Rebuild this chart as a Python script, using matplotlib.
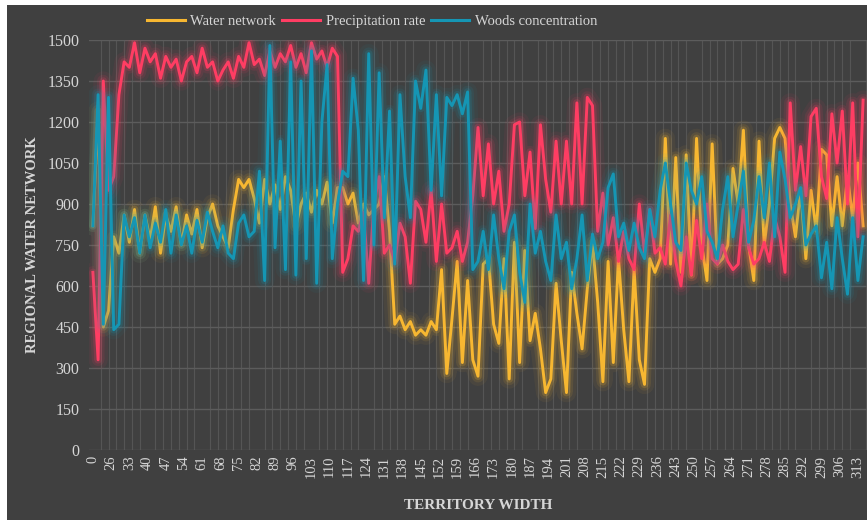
import numpy as np
import matplotlib
matplotlib.use("Agg")
import matplotlib.pyplot as plt
from matplotlib.patches import Rectangle

# ---- data ----
tick_labels = ["0"] + [str(v) for v in range(26, 314, 7)]
positions = list(range(0, 297, 2))

water_network = [
    820, 1240, 450, 510, 780, 720, 860, 760, 880, 720,
    860, 770, 890, 720, 860, 800, 890, 750, 860, 790,
    880, 740, 850, 900, 820, 780, 740, 880, 990, 960,
    990, 920, 830, 990, 900, 970, 880, 1000, 950, 820,
    900, 940, 870, 950, 900, 980, 830, 960, 960, 900,
    940, 830, 900, 860, 880, 900, 1000, 800, 460, 490,
    440, 470, 420, 440, 420, 470, 440, 660, 280, 480,
    690, 320, 620, 330, 270, 680, 700, 460, 390, 700,
    260, 760, 320, 730, 400, 500, 370, 210, 260, 610,
    400, 210, 650, 500, 370, 590, 760, 540, 250, 690,
    320, 700, 440, 250, 660, 330, 240, 700, 650, 700,
    1140, 680, 1070, 650, 1080, 640, 1140, 750, 620, 1120,
    680, 700, 750, 1030, 900, 1170, 750, 620, 1130, 750,
    900, 1140, 1180, 1140, 900, 780, 950, 700, 950, 800,
    1100, 1080, 820, 1000, 820, 1000, 850, 1050, 820,
]

precipitation_rate = [
    650, 330, 1350, 950, 1000, 1300, 1420, 1400, 1490, 1380,
    1470, 1420, 1450, 1360, 1440, 1400, 1430, 1350, 1420, 1440,
    1380, 1470, 1400, 1420, 1350, 1390, 1420, 1360, 1440, 1400,
    1490, 1410, 1430, 1370, 1460, 1400, 1450, 1420, 1480, 1400,
    1450, 1380, 1490, 1430, 1460, 1400, 1470, 1440, 650, 700,
    820, 800, 870, 610, 900, 1000, 720, 750, 690, 830,
    780, 610, 910, 880, 760, 950, 690, 900, 720, 740,
    800, 690, 760, 930, 1180, 930, 1120, 900, 1020, 800,
    900, 1190, 1200, 930, 1090, 810, 1190, 990, 870, 1130,
    900, 1130, 900, 1270, 900, 1290, 1260, 800, 940, 750,
    850, 690, 800, 700, 660, 900, 720, 880, 720, 740,
    680, 860, 690, 600, 780, 640, 840, 700, 900, 700,
    680, 750, 690, 660, 680, 880, 740, 680, 700, 760,
    690, 850, 780, 650, 1270, 950, 1110, 930, 1220, 1250,
    1000, 920, 1230, 1050, 1240, 900, 1270, 780, 1280,
]

woods_concentration = [
    820, 1300, 460, 1290, 440, 460, 860, 780, 850, 720,
    860, 740, 830, 760, 880, 720, 860, 750, 820, 720,
    840, 760, 870, 800, 740, 820, 720, 700, 830, 860,
    780, 800, 1020, 620, 1480, 740, 1130, 660, 1420, 640,
    1350, 700, 1460, 610, 1200, 1410, 700, 900, 1020, 1000,
    1360, 1170, 620, 1450, 750, 1380, 850, 1240, 680, 1300,
    1000, 850, 1350, 1250, 1390, 950, 1300, 930, 1290, 1260,
    1300, 1230, 1310, 660, 690, 800, 660, 860, 700, 590,
    800, 860, 650, 540, 900, 720, 800, 690, 620, 860,
    700, 760, 590, 700, 860, 620, 790, 700, 760, 960,
    1010, 780, 830, 730, 830, 740, 700, 880, 780, 950,
    1050, 900, 760, 730, 1050, 950, 900, 1000, 800, 760,
    700, 880, 1000, 780, 900, 1020, 760, 840, 1000, 850,
    1050, 780, 1090, 990, 850, 900, 960, 750, 790, 820,
    630, 760, 590, 850, 700, 570, 850, 620, 780,
]

series_names = ["Water network", "Precipitation rate", "Woods concentration"]
colors = ["#f7b731", "#ff3d63", "#1596b4"]

# ---- figure ----
W, H = 867, 520
fig = plt.figure(figsize=(W / 100, H / 100), dpi=100)
fig.patch.set_facecolor("white")
bg = "#404040"
fig.patches.append(Rectangle((7 / W, 0), 1 - 7 / W, 1 - 5 / H,
                             transform=fig.transFigure, facecolor=bg,
                             edgecolor="none", zorder=-10))

ax = fig.add_axes([89 / W, (H - 450) / H, (W - 89) / W, 410 / H])
ax.set_facecolor(bg)

serif = ["Liberation Serif", "DejaVu Serif"]
txt = "#d6d6d6"

for vals, col, name in zip([water_network, precipitation_rate, woods_concentration],
                           colors, series_names):
    for lw, a in [(14, 0.06), (9, 0.10), (5.5, 0.18)]:
        ax.plot(positions, vals, color=col, lw=lw, alpha=a,
                solid_joinstyle="round", solid_capstyle="round")
    ax.plot(positions, vals, color=col, lw=2.1, label=name,
            solid_joinstyle="round")

ax.set_xlim(-1.5, 297.5)
ax.set_ylim(0, 1500)
ax.set_yticks(np.arange(0, 1501, 150))
ax.set_xticks(np.arange(0, 7 * len(tick_labels), 7))
ax.set_xticklabels(tick_labels, rotation=90, fontfamily=serif, fontsize=10.5, color=txt)
ax.set_xticks(np.arange(0, 298, 3), minor=True)
for lab in ax.get_yticklabels():
    lab.set_fontfamily(serif)
ax.tick_params(axis="y", labelsize=11.5, labelcolor=txt, length=0, pad=7)
ax.tick_params(axis="x", which="both", length=0, pad=4)

ax.grid(axis="y", which="major", color="#5c5c5c", lw=1.0)
ax.grid(axis="x", which="minor", color="#555555", lw=0.8)
ax.set_axisbelow(True)
for s in ax.spines.values():
    s.set_visible(False)

ax.set_ylabel("REGIONAL WATER NETWORK", fontfamily=serif, fontsize=10.5,
              fontweight="bold", color=txt, labelpad=6)
ax.set_xlabel("TERRITORY WIDTH", fontfamily=serif, fontsize=11,
              fontweight="bold", color=txt, labelpad=15)

handles = [plt.Line2D([], [], color=c, lw=2.2) for c in colors]
fig.legend(handles, series_names, loc="center", bbox_to_anchor=(372 / W, 1 - 21 / H),
           ncol=3, frameon=False, handlelength=2.6, columnspacing=0.4,
           handletextpad=0.4, prop={"family": serif, "size": 10.5},
           labelcolor=txt)

fig.savefig("out.png", dpi=100, facecolor=fig.get_facecolor())
